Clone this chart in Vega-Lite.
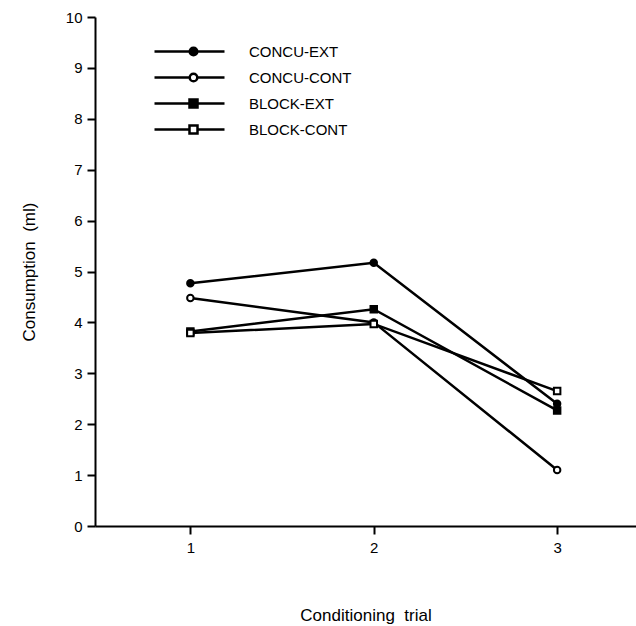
{
  "$schema": "https://vega.github.io/schema/vega-lite/v6.json",
  "width": 541,
  "height": 509,
  "autosize": "none",
  "padding": {"left": 95, "top": 17, "right": 0, "bottom": 100},
  "background": "white",
  "config": {
    "view": {"stroke": null},
    "font": "Liberation Sans",
    "axis": {
      "grid": false,
      "domainColor": "black",
      "tickColor": "black",
      "labelColor": "black",
      "titleColor": "black",
      "domainWidth": 2,
      "tickWidth": 2,
      "labelFont": "Liberation Sans",
      "titleFont": "Liberation Sans",
      "labelFontSize": 15,
      "titleFontSize": 17,
      "titleFontWeight": "normal"
    }
  },
  "data": {
    "values": [
      {"group": "CONCU-EXT", "trial": 1, "consumption": 4.77},
      {"group": "CONCU-EXT", "trial": 2, "consumption": 5.17},
      {"group": "CONCU-EXT", "trial": 3, "consumption": 2.40},
      {"group": "CONCU-CONT", "trial": 1, "consumption": 4.48},
      {"group": "CONCU-CONT", "trial": 2, "consumption": 4.00},
      {"group": "CONCU-CONT", "trial": 3, "consumption": 1.10},
      {"group": "BLOCK-EXT", "trial": 1, "consumption": 3.82},
      {"group": "BLOCK-EXT", "trial": 2, "consumption": 4.26},
      {"group": "BLOCK-EXT", "trial": 3, "consumption": 2.27},
      {"group": "BLOCK-CONT", "trial": 1, "consumption": 3.79},
      {"group": "BLOCK-CONT", "trial": 2, "consumption": 3.97},
      {"group": "BLOCK-CONT", "trial": 3, "consumption": 2.65}
    ]
  },
  "encoding": {
    "x": {
      "field": "trial",
      "type": "quantitative",
      "scale": {"domain": [0.48, 3.43], "nice": false, "zero": false},
      "axis": {
        "values": [1, 2, 3],
        "format": "d",
        "tickSize": 8,
        "labelPadding": 6,
        "title": "Conditioning \u00a0trial",
        "titlePadding": 52
      }
    },
    "y": {
      "field": "consumption",
      "type": "quantitative",
      "scale": {"domain": [0, 10], "nice": false},
      "axis": {
        "values": [0, 0.5, 1, 1.5, 2, 2.5, 3, 3.5, 4, 4.5, 5, 5.5, 6, 6.5, 7, 7.5, 8, 8.5, 9, 9.5, 10],
        "format": "d",
        "labelExpr": "datum.value % 1 === 0 ? datum.label : ''",
        "tickSize": {"condition": {"test": "datum.value % 1 !== 0", "value": 3}, "value": 8},
        "labelPadding": 5,
        "title": "Consumption \u00a0(ml)",
        "titlePadding": 27
      }
    }
  },
  "layer": [
    {
      "mark": {"type": "line", "color": "black", "strokeWidth": 2.5},
      "encoding": {"detail": {"field": "group"}}
    },
    {
      "transform": [{"filter": "datum.group === 'CONCU-EXT'"}],
      "mark": {"type": "point", "shape": "circle", "fill": "black", "stroke": "black", "strokeWidth": 2, "size": 42, "opacity": 1}
    },
    {
      "transform": [{"filter": "datum.group === 'CONCU-CONT'"}],
      "mark": {"type": "point", "shape": "circle", "fill": "white", "stroke": "black", "strokeWidth": 2, "size": 42, "opacity": 1}
    },
    {
      "transform": [{"filter": "datum.group === 'BLOCK-EXT'"}],
      "mark": {"type": "point", "shape": "square", "fill": "black", "stroke": "black", "strokeWidth": 2, "size": 42, "opacity": 1}
    },
    {
      "transform": [{"filter": "datum.group === 'BLOCK-CONT'"}],
      "mark": {"type": "point", "shape": "square", "fill": "white", "stroke": "black", "strokeWidth": 2, "size": 42, "opacity": 1}
    },
    {
      "transform": [{"filter": "false"}],
      "mark": {"type": "point", "strokeWidth": 2.5, "opacity": 1},
      "encoding": {
        "shape": {
          "field": "group",
          "scale": {
            "domain": ["CONCU-EXT", "CONCU-CONT", "BLOCK-EXT", "BLOCK-CONT"],
            "range": [
              "M-3.5,0H3.5M0.78,0A0.38,0.38,0,1,1,0.02,0A0.38,0.38,0,1,1,0.78,0Z",
              "M-3.5,0H0.02M0.78,0H3.5M0.78,0A0.38,0.38,0,1,1,0.02,0A0.38,0.38,0,1,1,0.78,0Z",
              "M-3.5,0H3.5M0.0,-0.4H0.8V0.4H0.0Z",
              "M-3.5,0H0.0M0.8,0H3.5M0.0,-0.4H0.8V0.4H0.0Z"
            ]
          },
          "legend": {
            "orient": "none",
            "legendX": 83,
            "legendY": 23,
            "title": null,
            "labelFontSize": 15,
            "labelFont": "Liberation Sans",
            "labelColor": "black",
            "labelOffset": 48,
            "rowPadding": 5,
            "symbolSize": 400,
            "symbolStrokeWidth": 2.5,
            "padding": 0
          }
        },
        "fill": {
          "field": "group",
          "scale": {"domain": ["CONCU-EXT", "CONCU-CONT", "BLOCK-EXT", "BLOCK-CONT"], "range": ["black", "white", "black", "white"]},
          "legend": {
            "orient": "none",
            "legendX": 83,
            "legendY": 23,
            "title": null,
            "labelFontSize": 15,
            "labelFont": "Liberation Sans",
            "labelColor": "black",
            "labelOffset": 48,
            "rowPadding": 5,
            "symbolSize": 400,
            "symbolStrokeWidth": 2.5,
            "padding": 0
          }
        },
        "stroke": {
          "field": "group",
          "scale": {"domain": ["CONCU-EXT", "CONCU-CONT", "BLOCK-EXT", "BLOCK-CONT"], "range": ["black", "black", "black", "black"]},
          "legend": {
            "orient": "none",
            "legendX": 83,
            "legendY": 23,
            "title": null,
            "labelFontSize": 15,
            "labelFont": "Liberation Sans",
            "labelColor": "black",
            "labelOffset": 48,
            "rowPadding": 5,
            "symbolSize": 400,
            "symbolStrokeWidth": 2.5,
            "padding": 0
          }
        }
      }
    }
  ]
}
